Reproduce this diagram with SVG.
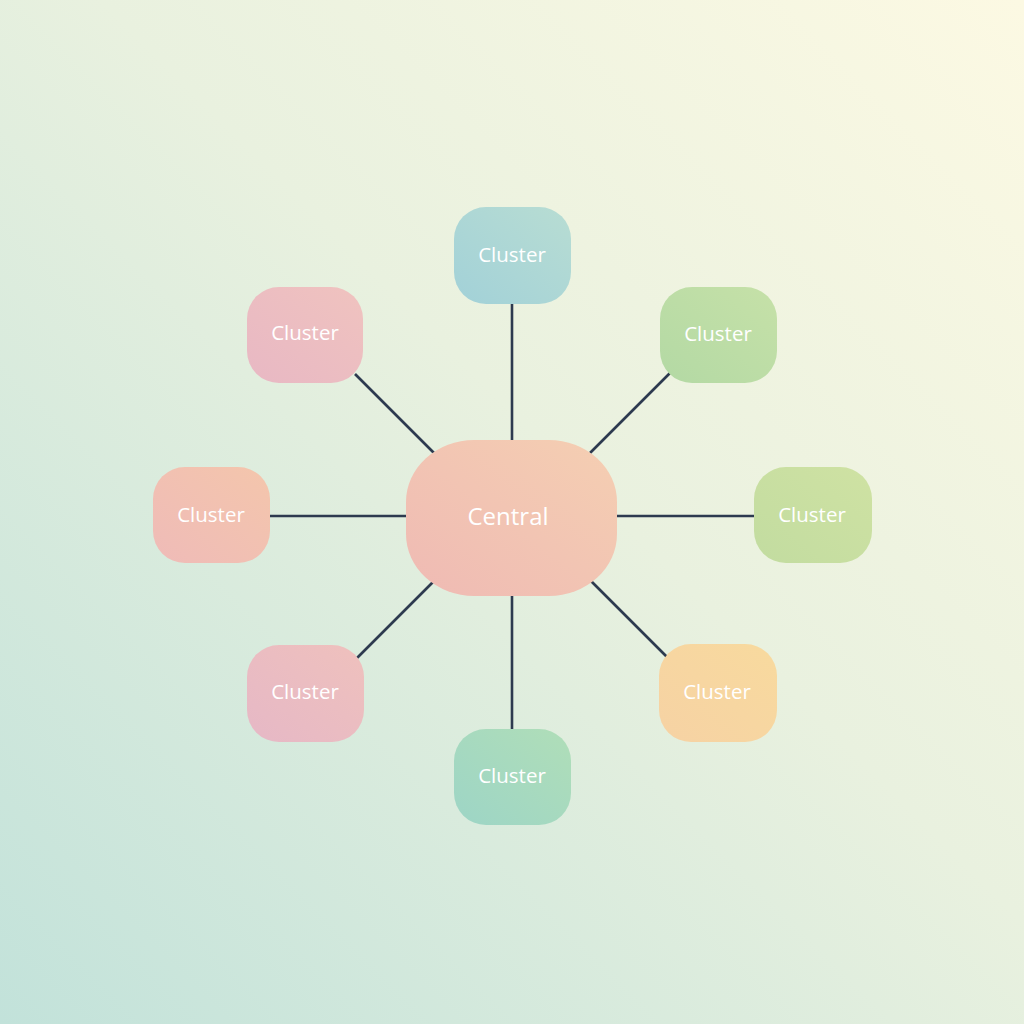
<svg xmlns="http://www.w3.org/2000/svg" width="1024" height="1024" viewBox="0 0 1024 1024">
  <defs>
    <linearGradient id="bg" x1="1" y1="0" x2="0" y2="1">
      <stop offset="0" stop-color="#fcf9e3"/>
      <stop offset="0.45" stop-color="#e9f1df"/>
      <stop offset="1" stop-color="#c2e2da"/>
    </linearGradient>
    <linearGradient id="gTop" x1="0" y1="1" x2="1" y2="0">
      <stop offset="0" stop-color="#a2d1d8"/>
      <stop offset="1" stop-color="#b8ddd3"/>
    </linearGradient>
    <linearGradient id="gTR" x1="0" y1="1" x2="1" y2="0">
      <stop offset="0" stop-color="#b3d9a4"/>
      <stop offset="1" stop-color="#c6e1a8"/>
    </linearGradient>
    <linearGradient id="gR" x1="0" y1="1" x2="1" y2="0">
      <stop offset="0" stop-color="#c2dca0"/>
      <stop offset="1" stop-color="#cfe2a3"/>
    </linearGradient>
    <linearGradient id="gBR" x1="0" y1="1" x2="1" y2="0">
      <stop offset="0" stop-color="#f6d2a4"/>
      <stop offset="1" stop-color="#f8da9e"/>
    </linearGradient>
    <linearGradient id="gB" x1="0" y1="1" x2="1" y2="0">
      <stop offset="0" stop-color="#9dd5c6"/>
      <stop offset="1" stop-color="#b0deb8"/>
    </linearGradient>
    <linearGradient id="gBL" x1="0" y1="1" x2="1" y2="0">
      <stop offset="0" stop-color="#e6b8c6"/>
      <stop offset="1" stop-color="#efc1bd"/>
    </linearGradient>
    <linearGradient id="gL" x1="0" y1="1" x2="1" y2="0">
      <stop offset="0" stop-color="#efbbb8"/>
      <stop offset="1" stop-color="#f4c6ac"/>
    </linearGradient>
    <linearGradient id="gTL" x1="0" y1="1" x2="1" y2="0">
      <stop offset="0" stop-color="#e8b8c4"/>
      <stop offset="1" stop-color="#f0c3bf"/>
    </linearGradient>
    <linearGradient id="gC" x1="0" y1="1" x2="1" y2="0">
      <stop offset="0" stop-color="#efbab4"/>
      <stop offset="1" stop-color="#f5cfb2"/>
    </linearGradient>
  </defs>
  <style>
    .edge { stroke: #2d3a4f; stroke-width: 2.6; stroke-linecap: butt; fill: none; }
    .lbl { font-family: "Open Sans", "Lato", "Liberation Sans", sans-serif; fill: #ffffff; text-anchor: middle; font-size: 20.5px; font-weight: 500; }
    .clbl { font-size: 24px; }
  </style>
  <rect x="0" y="0" width="1024" height="1024" fill="url(#bg)"/>

  <g id="connectors">
    <line class="edge" x1="512" y1="304" x2="512" y2="441"/>
    <line class="edge" x1="355" y1="374" x2="434" y2="453"/>
    <line class="edge" x1="670" y1="373" x2="590" y2="453"/>
    <line class="edge" x1="270" y1="516" x2="407" y2="516"/>
    <line class="edge" x1="616" y1="516" x2="754" y2="516"/>
    <line class="edge" x1="434" y1="581" x2="357" y2="658"/>
    <line class="edge" x1="591" y1="581" x2="667" y2="657"/>
    <line class="edge" x1="512" y1="595" x2="512" y2="729"/>
  </g>

  <g id="node-central">
    <rect x="406" y="440" width="211" height="156" rx="68" ry="62" fill="url(#gC)"/>
    <text class="lbl clbl" x="508" y="525">Central</text>
  </g>
  <g id="node-top">
    <rect x="454" y="207" width="117" height="97" rx="32" fill="url(#gTop)"/>
    <text class="lbl" x="512" y="262">Cluster</text>
  </g>
  <g id="node-top-right">
    <rect x="660" y="287" width="117" height="96" rx="32" fill="url(#gTR)"/>
    <text class="lbl" x="718" y="341">Cluster</text>
  </g>
  <g id="node-right">
    <rect x="754" y="467" width="118" height="96" rx="32" fill="url(#gR)"/>
    <text class="lbl" x="812" y="522">Cluster</text>
  </g>
  <g id="node-bottom-right">
    <rect x="659" y="644" width="118" height="98" rx="32" fill="url(#gBR)"/>
    <text class="lbl" x="717" y="699">Cluster</text>
  </g>
  <g id="node-bottom">
    <rect x="454" y="729" width="117" height="96" rx="32" fill="url(#gB)"/>
    <text class="lbl" x="512" y="783">Cluster</text>
  </g>
  <g id="node-bottom-left">
    <rect x="247" y="645" width="117" height="97" rx="32" fill="url(#gBL)"/>
    <text class="lbl" x="305" y="699">Cluster</text>
  </g>
  <g id="node-left">
    <rect x="153" y="467" width="117" height="96" rx="32" fill="url(#gL)"/>
    <text class="lbl" x="211" y="522">Cluster</text>
  </g>
  <g id="node-top-left">
    <rect x="247" y="287" width="116" height="96" rx="32" fill="url(#gTL)"/>
    <text class="lbl" x="305" y="340">Cluster</text>
  </g>
</svg>
